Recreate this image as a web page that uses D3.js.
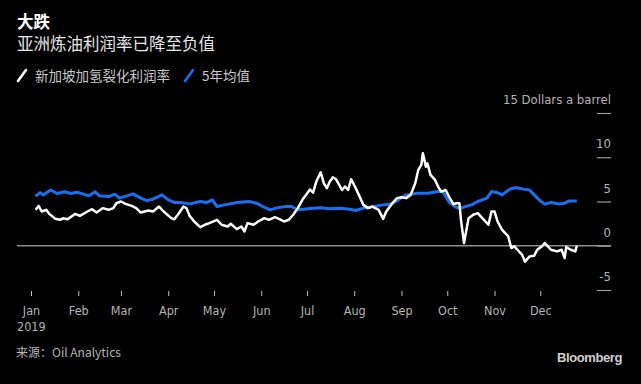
<!DOCTYPE html>
<html><head><meta charset="utf-8">
<script src="https://cdn.jsdelivr.net/npm/d3@7"></script>
<style>
html,body{margin:0;padding:0;background:#000;}
svg{display:block;}
</style></head>
<body>
<svg id="c" width="641" height="384"></svg>
<script>
// ---- data ----
const title = "大跌";
const subtitle = "亚洲炼油利润率已降至负值";
const seriesNames = ["新加坡加氢裂化利润率", "5年均值"];
const unitLabel = "15 Dollars a barrel";
const yTicks = [15, 10, 5, 0, -5];
const monthLabels = ["Jan","Feb","Mar","Apr","May","Jun","Jul","Aug","Sep","Oct","Nov","Dec"];
const yearLabel = "2019";
const sourceText = "来源：Oil Analytics";

const marginDates = ["2019-01-04","2019-01-06","2019-01-08","2019-01-11","2019-01-13","2019-01-17","2019-01-20","2019-01-22","2019-01-25","2019-01-30",
"2019-02-02","2019-02-07","2019-02-10","2019-02-13","2019-02-17","2019-02-21","2019-02-24","2019-02-26","2019-03-01","2019-03-04",
"2019-03-08","2019-03-11","2019-03-14","2019-03-19","2019-03-22","2019-03-26","2019-03-29","2019-04-03","2019-04-05","2019-04-08",
"2019-04-11","2019-04-13","2019-04-15","2019-04-18","2019-04-22","2019-04-25","2019-04-28","2019-05-03","2019-05-06","2019-05-10",
"2019-05-12","2019-05-16","2019-05-19","2019-05-21","2019-05-23","2019-05-27","2019-05-30","2019-06-03","2019-06-06","2019-06-10",
"2019-06-13","2019-06-16","2019-06-19","2019-06-22","2019-06-25","2019-06-28","2019-07-03","2019-07-05","2019-07-07","2019-07-10",
"2019-07-12","2019-07-14","2019-07-16","2019-07-18","2019-07-20","2019-07-24","2019-07-26","2019-07-28","2019-07-30","2019-08-02",
"2019-08-04","2019-08-07","2019-08-10","2019-08-13","2019-08-17","2019-08-20","2019-08-22","2019-08-26","2019-08-29","2019-09-01",
"2019-09-04","2019-09-07","2019-09-10","2019-09-12","2019-09-14","2019-09-15","2019-09-17","2019-09-18","2019-09-20","2019-09-23",
"2019-09-25","2019-09-27","2019-09-30","2019-10-02","2019-10-05","2019-10-07","2019-10-09","2019-10-10","2019-10-12","2019-10-15",
"2019-10-18","2019-10-21","2019-10-24","2019-10-28","2019-10-30","2019-11-01","2019-11-03","2019-11-06","2019-11-10","2019-11-12",
"2019-11-14","2019-11-16","2019-11-19","2019-11-21","2019-11-24","2019-11-27","2019-11-29","2019-12-02","2019-12-04","2019-12-06",
"2019-12-08","2019-12-12","2019-12-15","2019-12-17","2019-12-18","2019-12-21","2019-12-24","2019-12-25"];
const marginValues = [4.06,4.5,3.87,4.06,3.6,3.04,2.93,3.1,3.0,3.6,
3.38,3.87,4.13,3.75,4.25,4.06,4.25,4.8,5.0,4.73,
4.5,4.25,3.75,3.98,3.87,4.43,3.87,3.12,3.0,3.68,
4.43,4.25,3.38,2.74,2.1,2.37,2.56,2.93,2.37,2.18,
2.48,1.88,2.18,1.61,2.56,2.37,2.74,3.12,2.93,3.23,
3.0,2.74,2.93,3.5,4.25,5.19,6.35,6.0,7.2,8.3,
7.07,6.5,7.25,7.74,7.52,6.3,6.69,6.3,7.52,6.5,
5.75,4.62,4.25,4.43,4.06,3.04,3.87,4.8,5.38,5.49,
5.38,5.75,7.07,8.57,9.13,10.45,8.94,9.32,8.0,7.44,
6.69,6.12,6.3,5.6,4.7,4.8,4.8,2.93,0.3,3.12,
3.5,3.68,3.12,2.37,3.87,3.87,2.74,1.8,1.05,-0.26,
-0.07,-0.45,-1.0,-1.8,-1.2,-1.13,-0.45,-0.07,0.3,-0.07,
-0.45,-0.64,-0.45,-1.39,-0.15,-0.45,-0.64,0.0];

const avgDates = ["2019-01-04","2019-01-07","2019-01-09","2019-01-14","2019-01-18","2019-01-23","2019-01-27","2019-01-31","2019-02-04","2019-02-08",
"2019-02-12","2019-02-15","2019-02-21","2019-02-25","2019-02-28","2019-03-05","2019-03-09","2019-03-14","2019-03-18","2019-03-22",
"2019-03-28","2019-04-01","2019-04-05","2019-04-09","2019-04-15","2019-04-22","2019-04-26","2019-04-30","2019-05-03","2019-05-08",
"2019-05-16","2019-05-24","2019-05-29","2019-06-02","2019-06-07","2019-06-11","2019-06-17","2019-06-21","2019-06-25","2019-06-29",
"2019-07-03","2019-07-10","2019-07-16","2019-07-23","2019-07-29","2019-08-02","2019-08-07","2019-08-14","2019-08-20","2019-08-25",
"2019-08-30","2019-09-04","2019-09-11","2019-09-18","2019-09-25","2019-09-28","2019-10-02","2019-10-06","2019-10-09","2019-10-13",
"2019-10-17","2019-10-21","2019-10-27","2019-10-30","2019-11-03","2019-11-06","2019-11-11","2019-11-15","2019-11-20","2019-11-24",
"2019-11-27","2019-12-01","2019-12-04","2019-12-08","2019-12-13","2019-12-17","2019-12-20","2019-12-25"];
const avgValues = [5.6,6.0,5.75,6.3,5.9,6.1,5.9,6.05,5.86,5.64,
6.1,5.64,5.56,5.83,5.38,5.64,5.86,5.38,5.1,5.26,
5.75,5.19,4.9,4.88,4.73,5.0,4.88,5.19,4.43,4.62,
4.88,5.0,4.81,4.43,4.06,4.28,4.43,4.43,4.06,4.13,
4.2,4.3,4.17,4.25,4.13,3.98,4.25,4.43,4.62,4.73,
5.19,5.75,5.94,5.94,6.12,6.12,5.0,4.43,4.2,4.43,
4.62,5.0,5.38,6.12,6.0,5.75,6.4,6.58,6.4,6.3,
5.75,5.07,4.7,4.88,4.73,4.81,5.07,5.07];

// ---- chart ----
const parse = d3.timeParse("%Y-%m-%d");
const margin = marginDates.map((d,i)=>({date:parse(d), v:marginValues[i]}));
const avg = avgDates.map((d,i)=>({date:parse(d), v:avgValues[i]}));

const svg = d3.select("#c");
svg.append("rect").attr("width",641).attr("height",384).attr("fill","#000");

const cjk = "'Noto Sans CJK SC','Noto Sans',sans-serif";
const latin = "'DejaVu Sans Condensed','Noto Sans',sans-serif";

const x = d3.scaleTime().domain([parse("2019-01-01"), parse("2019-12-31")]).range([31, 586]);
const y = d3.scaleLinear().domain([-5, 15]).range([290, 113]);

// titles
svg.append("text").attr("x",17).attr("y",28).text(title)
  .attr("fill","#fff").attr("font-family",cjk).attr("font-weight","bold").attr("font-size",16.5);
svg.append("text").attr("x",17).attr("y",50).text(subtitle)
  .attr("fill","#e6e6e6").attr("font-family",cjk).attr("font-size",16.5);

// legend
const leg = svg.append("g");
const legItems = [{name:seriesNames[0], color:"#ffffff", x:18}, {name:seriesNames[1], color:"#1a6ef0", x:185}];
legItems.forEach(it=>{
  leg.append("line").attr("x1",it.x).attr("y1",81).attr("x2",it.x+8).attr("y2",70)
    .attr("stroke",it.color).attr("stroke-width",2.6).attr("stroke-linecap","round");
  leg.append("text").attr("x",it.x+17).attr("y",81).text(it.name)
    .attr("fill","#c8c8c8").attr("font-family",cjk).attr("font-size",13.5);
});

// y axis (right side, labels above ticks)
const yAxis = d3.axisRight(y).tickValues(yTicks).tickSize(14).tickFormat(d=>d);
const ya = svg.append("g").attr("transform","translate(597,0)").call(yAxis);
ya.select(".domain").remove();
ya.selectAll(".tick line").attr("stroke","#9a9a9a").attr("stroke-width",1.2);
ya.selectAll(".tick text").attr("x",14).attr("dy","-0.72em").attr("text-anchor","end")
  .attr("fill","#b4b4b4").attr("font-family",latin).attr("font-size",13)
  .text(d=> d===15 ? unitLabel : d);

// zero line
svg.append("line").attr("x1",17).attr("x2",611).attr("y1",y(0)).attr("y2",y(0))
  .attr("stroke","#8c8c8c").attr("stroke-width",1.6);

// x axis
const monthStarts = d3.timeMonth.range(parse("2019-01-01"), parse("2019-12-31"));
const xAxis = d3.axisBottom(x).tickValues(monthStarts).tickSize(5).tickPadding(10)
  .tickFormat((d,i)=>monthLabels[i]);
const xa = svg.append("g").attr("transform","translate(0,291)").call(xAxis);
xa.select(".domain").remove();
xa.selectAll(".tick line").attr("stroke","#bdbdbd").attr("stroke-width",1);
xa.selectAll(".tick text").attr("fill","#b4b4b4").attr("font-family",latin).attr("font-size",12.5);
svg.append("text").attr("x",17).attr("y",331).text(yearLabel)
  .attr("fill","#b4b4b4").attr("font-family",latin).attr("font-size",12.5);

// lines
const line = d3.line().x(d=>x(d.date)).y(d=>y(d.v)).curve(d3.curveLinear);
svg.append("path").datum(avg).attr("d",line).attr("fill","none")
  .attr("stroke","#1a6ef0").attr("stroke-width",3).attr("stroke-linejoin","round");
svg.append("path").datum(margin).attr("d",line).attr("fill","none")
  .attr("stroke","#ffffff").attr("stroke-width",2.5).attr("stroke-linejoin","round");

// footer
svg.append("text").attr("x",16).attr("y",357).text(sourceText)
  .attr("fill","#b4b4b4").attr("font-family",cjk).attr("font-size",12);
svg.append("text").attr("x",622).attr("y",362).attr("text-anchor","end").text("Bloomberg")
  .attr("fill","#d0d0d0").attr("font-family","'Liberation Sans',Arial,sans-serif").attr("font-weight","bold")
  .attr("font-size",13).attr("letter-spacing","-0.4");
</script>
</body></html>
